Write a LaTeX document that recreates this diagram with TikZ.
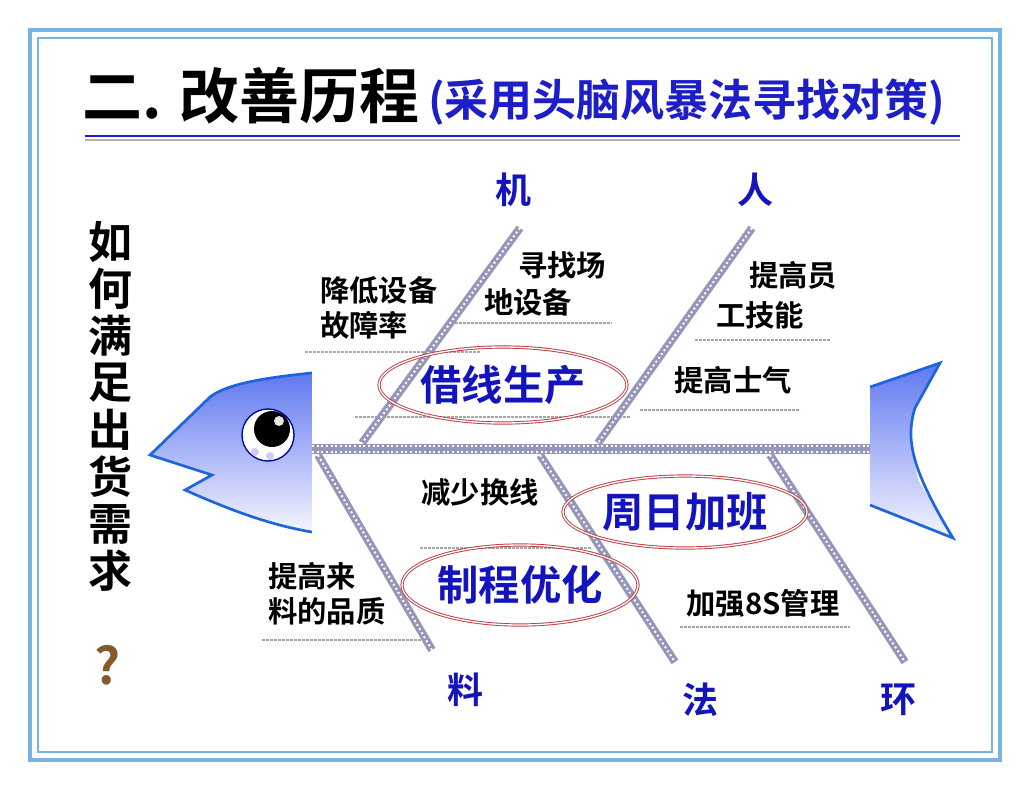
\documentclass[tikz,border=0pt]{standalone}
\usepackage{fontspec}
\setmainfont{Noto Sans CJK SC}[BoldFont={Noto Sans CJK SC Bold}]
\definecolor{frame}{RGB}{120,180,225}
\definecolor{ttlblue}{RGB}{30,30,200}
\definecolor{lblblue}{RGB}{20,20,190}
\definecolor{bone}{RGB}{150,150,185}
\definecolor{fishtop}{RGB}{95,120,240}
\definecolor{fishbot}{RGB}{245,245,255}
\definecolor{fishedge}{RGB}{30,100,220}
\definecolor{ellred}{RGB}{190,60,70}
\begin{document}
\begin{tikzpicture}[x=0.75pt,y=-0.75pt,
  bonestyle/.style={line width=6pt,color=bone},
  bonetex/.style={line width=1.5pt,color=white,dash pattern=on 1.5pt off 2pt},
  sub/.style={line width=1.5pt,color=gray!70,dash pattern=on 2pt off 1pt},
  lbl/.style={font=\fontsize{22}{26}\selectfont\bfseries,align=left,inner sep=0pt},
  big/.style={font=\fontsize{31}{34}\selectfont\bfseries,text=lblblue,inner sep=0pt},
  cat/.style={font=\fontsize{27}{30}\selectfont\bfseries,text=lblblue,inner sep=0pt},
  ell/.style={draw=ellred,double=white,double distance=1pt,line width=0.7pt}]
\useasboundingbox (0,0) rectangle (1030,790);
\fill[white] (0,0) rectangle (1030,790);
\draw[frame,line width=3pt] (30,30) rectangle (1000,760);
\draw[frame,line width=1pt] (38,38) rectangle (992,752);
% title
\node[anchor=base west,inner sep=0pt,font=\fontsize{45}{48}\selectfont\bfseries] (t1) at (82,118) {二. 改善历程};
\node[anchor=base west,inner sep=0pt,font=\fontsize{33}{36}\selectfont\bfseries,text=ttlblue] (t2) at (428,116) {(采用头脑风暴法寻找对策)};
\draw[ttlblue,line width=2pt] (85,136) -- (960,136);
\draw[gray!60,line width=1pt] (85,140) -- (960,140);
% vertical question
\foreach \c [count=\i] in {如,何,满,足,出,货,需,求}
  \node[inner sep=0pt,font=\fontsize{33}{36}\selectfont\bfseries] (v\i) at (110,195+47*\i) {\c};
\node[inner sep=0pt,font=\fontsize{38}{40}\selectfont\bfseries,text=brown!70!black] (q) at (108,665) {?};
% fish head
\shade[top color=fishtop,bottom color=fishbot] (312,373) .. controls (260,378) and (225,385) .. (210,397) -- (150,455) -- (212,475) -- (185,490) .. controls (230,510) and (270,525) .. (312,532) -- cycle;
\draw[fishedge,line width=2pt] (312,373) .. controls (260,378) and (225,385) .. (210,397) -- (150,455) -- (212,475) -- (185,490) .. controls (230,510) and (270,525) .. (312,532);
\fill[white] (312,360) rectangle (330,545);
\draw[blue!60!black,fill=white,line width=1pt] (268,435) circle (26);
\fill[blue!20] (255,452) circle (4) (270,456) circle (4);
\fill[black] (272,429) circle (18);
\fill[white!80!gray] (279,421) circle (5);
% tail
\shade[top color=fishtop,bottom color=fishbot] (870,387) -- (940,363) -- (915,408) -- (910,440) -- (918,480) -- (953,538) -- (870,505) -- cycle;
\draw[fishedge,line width=2pt] (870,387) -- (940,363) -- (915,408) .. controls (905,440) and (912,470) .. (953,538) -- (870,505);
% coordinates
\coordinate (sL) at (312,449); \coordinate (sR) at (870,449);
\coordinate (jiT) at (520,228); \coordinate (jiB) at (362,443);
\coordinate (renT) at (752,228); \coordinate (renB) at (598,443);
\coordinate (liaoT) at (318,455); \coordinate (liaoB) at (432,650);
\coordinate (faT) at (540,455); \coordinate (faB) at (675,662);
\coordinate (huanT) at (770,455); \coordinate (huanB) at (905,662);
% sub lines
\draw[sub] (305,352) -- (480,352);
\draw[sub] (455,323) -- (612,323);
\draw[sub] (355,417) -- (630,417);
\draw[sub] (695,340) -- (830,340);
\draw[sub] (640,410) -- (800,410);
\draw[sub] (420,548) -- (592,548);
\draw[sub] (262,640) -- (430,640);
\draw[sub] (680,627) -- (850,627);
% bones
\foreach \a/\b in {sL/sR,jiT/jiB,renT/renB,liaoT/liaoB,faT/faB,huanT/huanB}{
  \draw[bonestyle] (\a) -- (\b);
  \draw[bonetex] (\a) -- (\b);}
\draw[line width=8pt,color=bone] (sL) -- (sR);
\draw[bonetex] (312,446) -- (870,446);
\draw[bonetex] (312,452) -- (870,452);
% categories
\node[cat] (ji) at (513,190) {机};
\node[cat] (ren) at (755,190) {人};
\node[cat] (liao) at (465,690) {料};
\node[cat] (fa) at (700,700) {法};
\node[cat] (huan) at (898,700) {环};
% labels
\node[lbl,anchor=west] (l1) at (320,308) {降低设备\\故障率};
\node[lbl] (l2a) at (562,265) {寻找场};
\node[lbl] (l2b) at (528,302) {地设备};
\node[lbl] (l3a) at (793,275) {提高员};
\node[lbl] (l3b) at (760,315) {工技能};
\node[lbl] (l4) at (733,380) {提高士气};
\node[lbl] (l5) at (480,492) {减少换线};
\node[lbl,anchor=west] (l6) at (268,594) {提高来\\料的品质};
\node[lbl] (l7) at (763,603) {加强8S管理};
% big
\node[big] (b1) at (503,385) {借线生产};
\node[big] (b2) at (685,512) {周日加班};
\node[big] (b3) at (520,585) {制程优化};
\draw[ell] (b1) ellipse (124 and 38);
\draw[ell] (b2) ellipse (122 and 36);
\draw[ell] (b3) ellipse (118 and 40);
\end{tikzpicture}
\end{document}
